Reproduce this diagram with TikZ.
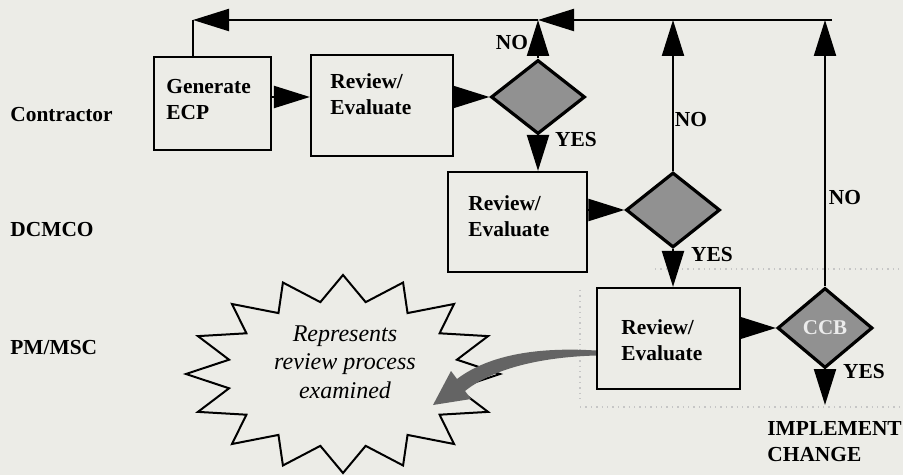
\documentclass[tikz,border=0pt]{standalone}
\usepackage{fontspec}
\setmainfont{Liberation Serif}
\usetikzlibrary{arrows.meta,shapes.geometric}
\definecolor{paper}{RGB}{236,236,231}
\definecolor{shade}{RGB}{145,145,145}
\definecolor{arrowgray}{RGB}{100,100,100}
\begin{document}
\begin{tikzpicture}[x=0.5pt,y=-0.5pt,
  lbl/.style={font=\bfseries\fontsize{10.7}{13}\selectfont, inner sep=0pt},
  txt/.style={lbl, align=left, anchor=west},
  box/.style={draw, line width=1.1pt, rectangle, inner sep=0pt},
  decision/.style={diamond, draw, line width=1.6pt, fill=shade, inner sep=0pt},
  flow/.style={line width=1.1pt, -{Triangle[length=18pt,width=11pt]}},
  link/.style={line width=1.1pt},
  lane/.style={gray!45, dotted, line width=0.7pt}]

\useasboundingbox[fill=paper] (0,0) rectangle (903,475);

% faint lane separators
\draw[lane] (655,269) -- (903,269);
\draw[lane] (580,407) -- (903,407);
\draw[lane] (580,290) -- (580,400);

% lane titles
\node[txt] (lc) at (10,115) {Contractor};
\node[txt] (ld) at (10,230) {DCMCO};
\node[txt] (lp) at (10,348) {PM/MSC};

% process boxes
\node[box, minimum width=58.5pt, minimum height=46.5pt] (gen)  at (212.5,103.5) {};
\node[box, minimum width=71pt,   minimum height=50.5pt] (rev1) at (382,105.5) {};
\node[box, minimum width=69.5pt, minimum height=50pt]   (rev2) at (517.5,222) {};
\node[box, minimum width=71.5pt, minimum height=50.5pt] (rev3) at (668.5,338.5) {};

\node[txt] (genT)  at (166,100) {Generate\\ECP};
\node[txt] (rev1T) at (330,94)  {Review/\\Evaluate};
\node[txt] (rev2T) at (468,216) {Review/\\Evaluate};
\node[txt] (rev3T) at (621,340) {Review/\\Evaluate};

% decisions
\node[decision, minimum width=47pt,   minimum height=37pt]   (d1)  at (538,97)  {};
\node[decision, minimum width=47pt,   minimum height=37.5pt] (d2)  at (673,210) {};
\node[decision, minimum width=47.5pt, minimum height=40pt,
      font=\bfseries\fontsize{10.5}{12}\selectfont, text=gray!15] (ccb) at (825,328) {CCB};

% return line along the top
\coordinate (tr) at (832,20);
\coordinate (tl) at (193,20);
\draw[flow] (tr) -- (d1.north |- tr);
\draw[flow] (d1.north |- tr) -- (tl);
\draw[link] (tl) -- (tl |- gen.north);

% NO branches
\draw[flow] (d1.north)  -- (d1.north |- tr);
\draw[flow] (d2.north)  -- (d2.north |- tr);
\draw[flow] (ccb.north) -- (ccb.north |- tr);

% YES branches
\coordinate (done) at (825,405);
\draw[flow] (d1.south)  -- (d1.south |- rev2.north);
\draw[flow] (d2.south)  -- (d2.south |- rev3.north);
\draw[flow] (ccb.south) -- (done);

% forward flow
\draw[flow] (gen.east |- d1.west)  -- (rev1.west |- d1.west);
\draw[flow] (rev1.east |- d1.west) -- (d1.west);
\draw[flow] (rev2.east |- d2.west) -- (d2.west);
\draw[flow] (rev3.east |- ccb.west) -- (ccb.west);

% branch labels
\node[lbl] (no1)  at (512,43)  {NO};
\node[lbl] (yes1) at (576,140) {YES};
\node[lbl] (no2)  at (691,120) {NO};
\node[lbl] (yes2) at (712,255) {YES};
\node[lbl] (no3)  at (845,198) {NO};
\node[lbl] (yes3) at (864,372) {YES};
\node[txt, anchor=north west] (impl) at (767,421) {IMPLEMENT\\CHANGE};

% starburst callout
\draw[line width=1pt, fill=paper]
  (343,275) \foreach \i [evaluate=\i as \r using {mod(\i,2)==0 ? 1 : 0.74}] in {1,...,31}
    { -- ({343+157*\r*cos(90+11.25*\i)}, {374-99*\r*sin(90+11.25*\i)}) } -- cycle;
\node[font=\itshape\fontsize{12}{14.3}\selectfont, align=center, inner sep=0pt]
  (burst) at (345,362) {Represents\\review process\\examined};

% tapered pointer from the examined review step to the callout
\coordinate (hit) at (433,405);
\fill[arrowgray]
  ([yshift=-6pt]rev3.west) .. controls (540,347) and (490,354) .. (457,379)
  -- (451,371) -- (hit) -- (471,399) -- (465,391)
  .. controls (495,367) and (545,357) .. ([yshift=-8.5pt]rev3.west) -- cycle;
\end{tikzpicture}
\end{document}
